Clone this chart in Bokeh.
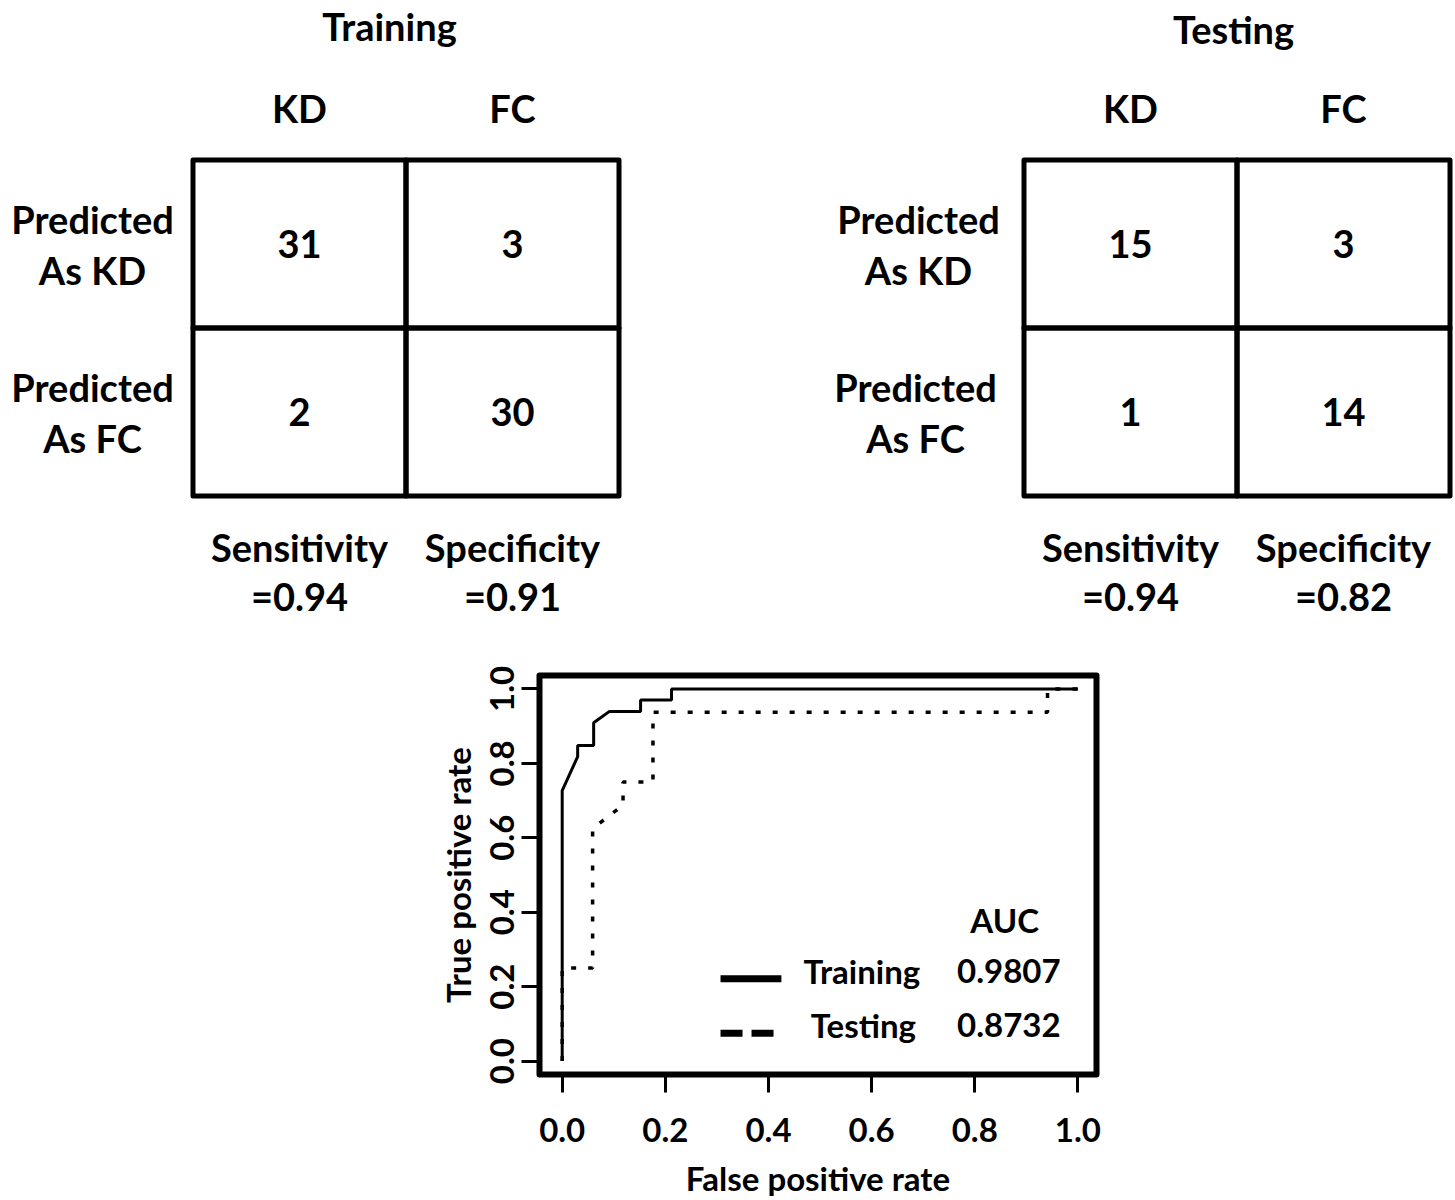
from bokeh.plotting import figure
from bokeh.models import Range1d, ColumnDataSource, FixedTicker, NumeralTickFormatter
from bokeh.layouts import column
from bokeh.core.properties import value
from bokeh.embed import file_html
from bokeh.resources import INLINE

# ---------------- data ----------------
col_labels = ["KD", "FC"]
row_labels_top = ["Predicted", "Predicted"]
row_labels_bottom = ["As KD", "As FC"]
panel_titles = ["Training", "Testing"]
train_counts = [[31, 3], [2, 30]]
test_counts = [[15, 3], [1, 14]]
metric_names = ["Sensitivity", "Specificity"]
train_metrics = ["=0.94", "=0.91"]
test_metrics = ["=0.94", "=0.82"]

train_fpr = [0.0, 0.0, 0.030, 0.030, 0.061, 0.061, 0.091, 0.152, 0.152, 0.212, 0.212, 1.0]
train_tpr = [0.0, 0.727, 0.818, 0.848, 0.848, 0.909, 0.939, 0.939, 0.970, 0.970, 1.0, 1.0]
test_fpr = [0.0, 0.0, 0.059, 0.059, 0.118, 0.118, 0.176, 0.176, 0.941, 0.941, 1.0]
test_tpr = [0.0, 0.25, 0.25, 0.625, 0.6875, 0.75, 0.75, 0.9375, 0.9375, 1.0, 1.0]
auc_header = "AUC"
auc_labels = ["Training", "Testing"]
auc_values = ["0.9807", "0.8732"]
roc_ticks = [0.0, 0.2, 0.4, 0.6, 0.8, 1.0]

# ---------------- layout ----------------
FONT = "Lato"
W = 1455
H1 = 640
H2 = 560

top = figure(width=W, height=H1, x_range=Range1d(0, W), y_range=Range1d(H1, 0),
             x_axis_type=None, y_axis_type=None, output_backend="svg",
             toolbar_location=None, min_border=0)
top.frame_align = False
top.grid.visible = False
top.outline_line_color = None
top.background_fill_color = "white"
top.border_fill_color = "white"

CW, CH = 213.0, 168.0
BOX_TOP = 159.5
DY = -15  # baseline correction

panels = [
    dict(title=panel_titles[0], counts=train_counts, metrics=train_metrics, left=192.5,
         title_x=389, title_base=40, row_x=[92, 92]),
    dict(title=panel_titles[1], counts=test_counts, metrics=test_metrics, left=1023.5,
         title_x=1233, title_base=43, row_x=[918, 915]),
]

def txt(fig, xs, ys, texts, size, align="center"):
    src = ColumnDataSource(dict(x=xs, y=ys, t=texts))
    fig.text(x="x", y="y", text="t", source=src, text_font=value(FONT),
             text_font_style="bold", text_font_size=size, text_align=align,
             text_baseline="alphabetic", text_color="black")

for pn in panels:
    L = pn["left"]
    lefts, rights, tops, bottoms = [], [], [], []
    for i in range(2):
        for j in range(2):
            lefts.append(L + j * CW)
            rights.append(L + (j + 1) * CW)
            tops.append(BOX_TOP + i * CH)
            bottoms.append(BOX_TOP + (i + 1) * CH)
    top.quad(left=lefts, right=rights, top=tops, bottom=bottoms, fill_color=None,
             line_color="black", line_width=5, line_join="round")
    cx = [L + (j + 0.5) * CW for j in range(2)]
    txt(top, [pn["title_x"]], [pn["title_base"] + DY], [pn["title"]], "38px")
    txt(top, cx, [122 + DY] * 2, col_labels, "38px")
    xs, ys, ts = [], [], []
    for i in range(2):
        for j in range(2):
            xs.append(cx[j])
            ys.append(258.5 + i * CH + DY)
            ts.append(str(pn["counts"][i][j]))
    txt(top, xs, ys, ts, "38px")
    txt(top, pn["row_x"], [233 + DY, 233 + CH + DY], row_labels_top, "38px")
    txt(top, pn["row_x"], [284 + DY, 284 + CH + DY], row_labels_bottom, "38px")
    txt(top, cx, [561 + DY] * 2, metric_names, "38px")
    txt(top, cx, [610 + DY] * 2, pn["metrics"], "38px")

# ---------------- ROC ----------------
roc = figure(width=W, height=H2, x_range=Range1d(-0.044, 1.036), y_range=Range1d(-0.036, 1.036),
             output_backend="svg", toolbar_location=None,
             min_border_left=539, min_border_right=359, min_border_top=35, min_border_bottom=125,
             x_axis_label="False positive rate", y_axis_label="True positive rate")
roc.frame_align = False
roc.grid.visible = False
roc.outline_line_color = "black"
roc.outline_line_width = 6
roc.outline_line_join = "round"
roc.background_fill_color = "white"
roc.border_fill_color = "white"

for ax in (roc.xaxis[0], roc.yaxis[0]):
    ax.ticker = FixedTicker(ticks=roc_ticks)
    ax.formatter = NumeralTickFormatter(format="0.0")
    ax.axis_line_color = None
    ax.major_tick_in = 0
    ax.major_tick_out = 18
    ax.major_tick_line_width = 3
    ax.major_tick_line_color = "black"
    ax.minor_tick_line_color = None
    ax.major_label_text_font = FONT
    ax.major_label_text_font_style = "bold"
    ax.major_label_text_font_size = "33px"
    ax.major_label_text_color = "black"
    ax.axis_label_text_font = FONT
    ax.axis_label_text_font_style = "bold"
    ax.axis_label_text_font_size = "33px"
    ax.axis_label_text_color = "black"

roc.xaxis[0].major_label_standoff = 25
roc.xaxis[0].axis_label_standoff = 13
roc.yaxis[0].major_label_orientation = "vertical"
roc.yaxis[0].major_label_standoff = 7
roc.yaxis[0].axis_label_standoff = 10

roc.line(train_fpr, train_tpr, line_color="black", line_width=3)
roc.line(test_fpr, test_tpr, line_color="black", line_width=3.5, line_dash="5 12")

# legend
roc.segment(x0=[0.307], y0=[0.221], x1=[0.425], y1=[0.221], line_color="black", line_width=7)
roc.segment(x0=[0.307], y0=[0.075], x1=[0.410], y1=[0.075], line_color="black", line_width=7,
            line_dash="22 9")
txt(roc, [0.858], [0.380], [auc_header], "33px")
txt(roc, [0.581, 0.584], [0.241, 0.097], auc_labels, "33px")
txt(roc, [0.866, 0.866], [0.241, 0.097], auc_values, "33px")

layout = column(top, roc, spacing=0)
open("out.html", "w").write(file_html(layout, INLINE))
